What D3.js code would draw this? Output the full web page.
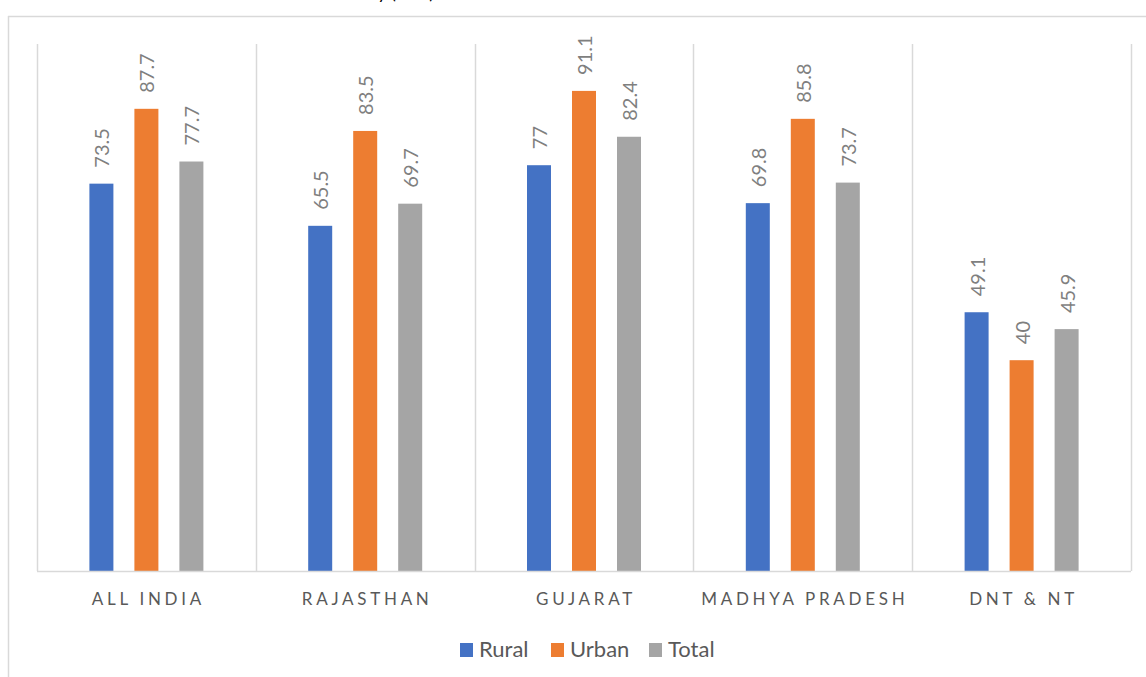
<!DOCTYPE html>
<html>
<head>
<meta charset="utf-8">
<script src="https://cdn.jsdelivr.net/npm/d3@7"></script>
<style>
  body { margin: 0; background: #fff; }
  svg { display: block; font-family: Lato, "Open Sans", sans-serif; }
</style>
</head>
<body>
<div id="chart"></div>
<script>
// Data
const categories = ["ALL INDIA", "RAJASTHAN", "GUJARAT", "MADHYA PRADESH", "DNT & NT"];
const seriesNames = ["Rural", "Urban", "Total"];
const rural = [73.5, 65.5, 77, 69.8, 49.1];
const urban = [87.7, 83.5, 91.1, 85.8, 40];
const total = [77.7, 69.7, 82.4, 73.7, 45.9];
const colors = ["#4472C4", "#ED7D31", "#A5A5A5"];

const W = 1146, H = 677;
const plot = { left: 37, right: 1131, top: 44, bottom: 571 };

const svg = d3.select("#chart").append("svg")
    .attr("width", W)
    .attr("height", H);

// Outer frame (only top and left edges visible)
svg.append("line")
    .attr("x1", 8).attr("x2", W).attr("y1", 16.5).attr("y2", 16.5)
    .attr("stroke", "#d9d9d9").attr("stroke-width", 1.5);
svg.append("line")
    .attr("x1", 8.5).attr("x2", 8.5).attr("y1", 16).attr("y2", H)
    .attr("stroke", "#d9d9d9").attr("stroke-width", 1.5);

// Title sits above the crop, only descenders reach the top edge
svg.append("text")
    .attr("x", 434).attr("y", -1.5)
    .attr("text-anchor", "end")
    .attr("font-size", 18)
    .attr("fill", "#000")
    .text("Literacy (in %)");

// Scales
const x0 = d3.scaleBand()
    .domain(categories)
    .range([plot.left, plot.right]);

const x1 = d3.scaleBand()
    .domain(seriesNames)
    .range([0, 114])
    .paddingInner(21 / 45);

const y = d3.scaleLinear()
    .domain([0, 100])
    .range([plot.bottom, plot.top]);

const colorScale = d3.scaleOrdinal().domain(seriesNames).range(colors);

// Category separators
const seps = categories.map(c => x0(c)).concat([plot.right]);
svg.selectAll(".sep")
    .data(seps)
    .enter().append("line")
    .attr("class", "sep")
    .attr("x1", d => Math.round(d) + 0.5)
    .attr("x2", d => Math.round(d) + 0.5)
    .attr("y1", y(100))
    .attr("y2", y(0))
    .attr("stroke", "#d9d9d9")
    .attr("stroke-width", 1.5);

// Bars
const rows = categories.map((c, i) => ({
    category: c,
    values: [
        { name: "Rural", value: rural[i] },
        { name: "Urban", value: urban[i] },
        { name: "Total", value: total[i] }
    ]
}));

const groups = svg.selectAll(".group")
    .data(rows)
    .enter().append("g")
    .attr("class", "group")
    .attr("transform", d => "translate(" + (x0(d.category) + (x0.bandwidth() - 114) / 2) + ",0)");

groups.selectAll("rect")
    .data(d => d.values)
    .enter().append("rect")
    .attr("x", d => x1(d.name))
    .attr("width", x1.bandwidth())
    .attr("y", d => y(d.value))
    .attr("height", d => y(0) - y(d.value))
    .attr("fill", d => colorScale(d.name));

// Value labels (rotated)
groups.selectAll(".val")
    .data(d => d.values)
    .enter().append("text")
    .attr("class", "val")
    .attr("transform", d => "translate(" + (x1(d.name) + x1.bandwidth() / 2 + 1) + "," + (y(d.value) - 16) + ") rotate(-90)")
    .attr("dy", "0.35em")
    .attr("text-anchor", "start")
    .attr("font-size", 20)
    .attr("fill", "#7f7f7f")
    .text(d => d.value);

// X axis line
svg.append("line")
    .attr("x1", plot.left).attr("x2", plot.right)
    .attr("y1", y(0) + 0.5).attr("y2", y(0) + 0.5)
    .attr("stroke", "#d9d9d9")
    .attr("stroke-width", 1.5);

// Category labels
svg.selectAll(".cat")
    .data(categories)
    .enter().append("text")
    .attr("class", "cat")
    .attr("x", d => x0(d) + x0.bandwidth() / 2 + 2)
    .attr("y", 605)
    .attr("text-anchor", "middle")
    .attr("font-size", 17)
    .attr("letter-spacing", "3.7px")
    .attr("fill", "#595959")
    .text(d => d);

// Legend
const legendX = [460, 551, 649];
const legend = svg.selectAll(".legend")
    .data(seriesNames)
    .enter().append("g")
    .attr("class", "legend")
    .attr("transform", (d, i) => "translate(" + legendX[i] + ",643)");

legend.append("rect")
    .attr("width", 13)
    .attr("height", 14)
    .attr("fill", colorScale);

legend.append("text")
    .attr("x", 19)
    .attr("y", 14)
    .attr("font-size", 22)
    .attr("fill", "#595959")
    .text(d => d);
</script>
</body>
</html>
